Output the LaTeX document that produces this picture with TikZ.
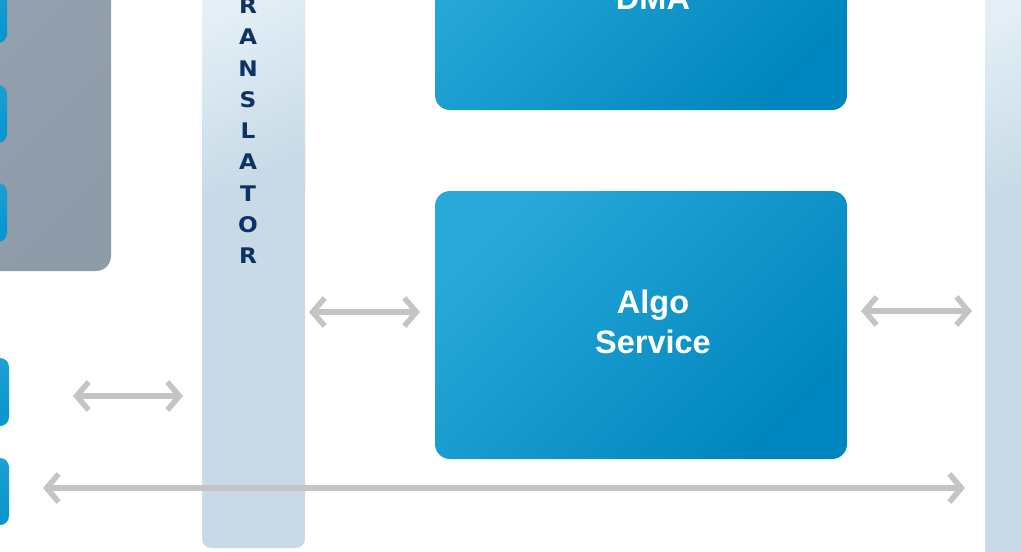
\documentclass[tikz,border=0pt]{standalone}
\usepackage{fontspec}
\setmainfont{Liberation Sans}
\newfontfamily\lettersfont{DejaVu Sans}
\usetikzlibrary{arrows.meta}
\definecolor{boxlight}{HTML}{27A8D8}
\definecolor{boxdark}{HTML}{0086BE}
\definecolor{innerblue}{HTML}{0A97CF}
\definecolor{panelgray}{HTML}{8E9BA9}
\definecolor{panellight}{HTML}{97A3B0}
\definecolor{barblue}{HTML}{C7DAE6}
\definecolor{barlight}{HTML}{E4EFF7}
\definecolor{arrowgray}{HTML}{C4C4C4}
\definecolor{navy}{HTML}{0E3264}
\begin{document}
\begin{tikzpicture}[x=1pt,y=-1pt,
  bluebox/.style={rectangle, rounded corners=15pt, inner sep=0pt, draw=none,
    top color=boxlight, bottom color=boxdark, shading angle=45},
  smallbox/.style={rectangle, rounded corners=9pt, inner sep=0pt, draw=none,
    top color=innerblue!85!white, bottom color=innerblue, shading angle=45},
  panel/.style={rectangle, rounded corners=15pt, inner sep=0pt, draw=none,
    top color=panellight, bottom color=panelgray, shading angle=45},
  bar/.style={rectangle, rounded corners=9pt, inner sep=0pt, draw=none, fill=barblue},
  boxtext/.style={text=white, font=\bfseries\fontsize{32.5}{38}\selectfont, anchor=base, inner sep=0pt},
  letter/.style={text=navy, font=\lettersfont\bfseries\fontsize{21.5}{24}\selectfont, anchor=base, inner sep=0pt},
  link/.style={draw=arrowgray, line width=5.5pt,
    {Straight Barb[length=12pt,width=28pt]}-{Straight Barb[length=12pt,width=28pt]}}
]
\useasboundingbox (0,0) rectangle (1021,552);
\clip (0,0) rectangle (1021,552);

% left gray panel with blue boxes
\node[panel, minimum width=211pt, minimum height=371pt] (panel) at (5.5,85.5) {};
\node[smallbox, minimum width=67pt, minimum height=63pt] (pa) at (-26.5,11.5) {};
\node[smallbox, minimum width=67pt, minimum height=58pt] (pb) at (-26.5,114) {};
\node[smallbox, minimum width=67pt, minimum height=59pt] (pc) at (-26.5,212.5) {};

% left boxes outside the panel
\node[smallbox, minimum width=69pt, minimum height=68pt] (le) at (-25.5,392) {};
\node[smallbox, minimum width=69pt, minimum height=67pt] (lf) at (-25.5,491.5) {};

% translator bar
\node[bar, minimum width=103pt, minimum height=608pt] (trans) at (253.5,244) {};
\fill[top color=barlight, bottom color=barblue, shading angle=25] (202,-10) rectangle (305,190);
\foreach \l [count=\i from 0] in {R,A,N,S,L,A,T,O,R}
  \node[letter] (t\i) at (248,{13.5+31.25*\i}) {\scalebox{1.08}[1]{\l}};

% right bar
\node[bar, minimum width=100pt, minimum height=700pt] (rbar) at (1035,276) {};
\fill[top color=barlight, bottom color=barblue, shading angle=25] (985,-10) rectangle (1090,190);

% DMA and Algo boxes
\node[bluebox, minimum width=412pt, minimum height=210pt] (dma) at (641,5) {};
\node[boxtext] (dmat) at (653,9) {DMA};
\node[bluebox, minimum width=412pt, minimum height=268pt] (algo) at (641,325) {};
\node[boxtext] (algot1) at (653,313) {Algo};
\node[boxtext] (algot2) at (653,353) {Service};

% arrow end points
\coordinate (a1l) at (309,312);
\coordinate (a1r) at (420,312);
\coordinate (a2l) at (861,311);
\coordinate (a2r) at (972,311);
\coordinate (a3l) at (73,396);
\coordinate (a3r) at (183,396);
\coordinate (a4l) at (43,488);
\coordinate (a4r) at (965,488);

\draw[link] (a1l) -- (a1r);
\draw[link] (a2l) -- (a2r);
\draw[link] (a3l) -- (a3r);
\draw[link] (a4l) -- (a4r);
\end{tikzpicture}
\end{document}
